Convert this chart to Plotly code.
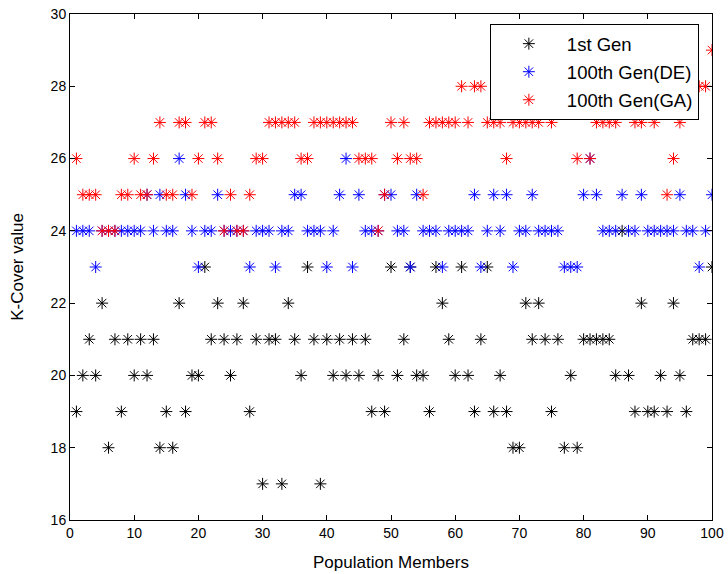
import plotly.graph_objects as go

members = list(range(1, 101))

gen1 = [19, 20, 21, 20, 22, 18, 21, 19, 21, 20,
        21, 20, 21, 18, 19, 18, 22, 19, 20, 20,
        23, 21, 22, 21, 20, 21, 22, 19, 21, 17,
        21, 21, 17, 22, 21, 20, 23, 21, 17, 21,
        20, 21, 20, 21, 20, 21, 19, 20, 19, 23,
        20, 21, 23, 20, 20, 19, 23, 22, 21, 20,
        23, 20, 19, 21, 23, 19, 20, 19, 18, 18,
        22, 21, 22, 21, 19, 21, 18, 20, 18, 21,
        21, 21, 21, 21, 20, 24, 20, 19, 22, 19,
        19, 20, 19, 22, 20, 19, 21, 21, 21, 23]

gen100_de = [24, 24, 24, 23, 24, 24, 24, 24, 24, 24,
             24, 25, 24, 25, 24, 24, 26, 25, 24, 23,
             24, 24, 25, 24, 24, 24, 24, 23, 24, 24,
             24, 23, 24, 24, 25, 25, 24, 24, 24, 23,
             24, 25, 26, 23, 25, 24, 24, 24, 25, 25,
             24, 24, 23, 25, 24, 24, 24, 23, 24, 24,
             24, 24, 25, 23, 24, 25, 24, 25, 23, 24,
             24, 25, 24, 24, 24, 24, 23, 23, 23, 25,
             26, 25, 24, 24, 24, 25, 24, 24, 25, 24,
             24, 24, 24, 24, 25, 24, 24, 23, 24, 25]

gen100_ga = [26, 25, 25, 25, 24, 24, 24, 25, 25, 26,
             25, 25, 26, 27, 25, 25, 27, 27, 25, 26,
             27, 27, 26, 24, 25, 24, 24, 25, 26, 26,
             27, 27, 27, 27, 27, 26, 26, 27, 27, 27,
             27, 27, 27, 27, 26, 26, 26, 24, 25, 27,
             26, 27, 26, 26, 25, 27, 27, 27, 27, 27,
             28, 27, 28, 28, 27, 27, 27, 26, 27, 27,
             27, 27, 27, 28, 27, 28, 28, 28, 26, 28,
             26, 27, 27, 27, 27, 28, 28, 27, 27, 28,
             27, 28, 25, 26, 27, 28, 28, 28, 28, 29]

x_ticks = list(range(0, 101, 10))
y_ticks = list(range(16, 31, 2))

series = [("1st Gen", gen1, "black"),
          ("100th Gen(DE)", gen100_de, "blue"),
          ("100th Gen(GA)", gen100_ga, "red")]

fig = go.Figure()
for name, vals, col in series:
    fig.add_trace(go.Scatter(
        x=members, y=vals, mode="markers", name=name, legendgroup=name,
        marker=dict(symbol="asterisk-open", size=10, color=col,
                    line=dict(color=col, width=1)),
    ))

axis_common = dict(showline=True, linecolor="black", linewidth=1, mirror="ticks",
                   ticks="inside", ticklen=5, tickcolor="black", showgrid=False,
                   zeroline=False, automargin=False,
                   tickfont=dict(family="Liberation Sans", size=14, color="black"))

fig.update_layout(
    width=728, height=574,
    margin=dict(l=70, r=16, t=14, b=54),
    paper_bgcolor="white", plot_bgcolor="white",
    font=dict(family="Liberation Sans", size=14, color="black"),
    xaxis=dict(range=[0, 100], tickvals=x_ticks,
               title=dict(text="Population Members", standoff=16), **axis_common),
    yaxis=dict(range=[16, 30], tickvals=y_ticks,
               title=dict(text="K-Cover value", standoff=22), **axis_common),
    legend=dict(x=0.654, y=0.98, xanchor="left", yanchor="top",
                bgcolor="white", bordercolor="black", borderwidth=1,
                font=dict(family="Liberation Sans", size=18.5, color="black"),
                tracegroupgap=1, itemwidth=66),
    showlegend=True,
)

fig.write_html("out.html", config={"displayModeBar": False},
               post_script="document.body.style.margin='0';document.body.style.padding='0';")
